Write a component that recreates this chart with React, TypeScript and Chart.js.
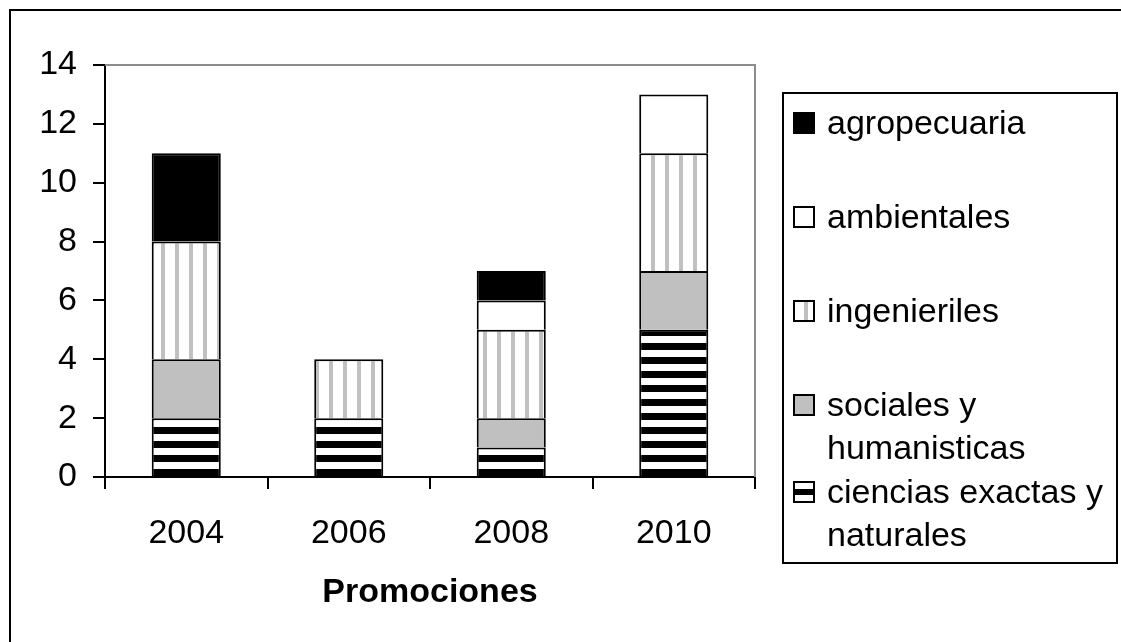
import React, { useEffect, useRef } from "react";
import { Chart, registerables } from "chart.js";

Chart.register(...registerables);

const categories = ["2004", "2006", "2008", "2010"];
const ciencias = [2, 2, 1, 5];
const sociales = [2, 0, 1, 2];
const ingenieriles = [4, 2, 3, 4];
const ambientales = [0, 0, 1, 2];
const agropecuaria = [3, 0, 1, 0];
const yMin = 0;
const yMax = 14;
const yStep = 2;
const xTitle = "Promociones";
const legendLines: Record<string, string[]> = {
  agropecuaria: ["agropecuaria"],
  ambientales: ["ambientales"],
  ingenieriles: ["ingenieriles"],
  sociales: ["sociales y", "humanisticas"],
  ciencias: ["ciencias exactas y", "naturales"],
};

const FONT = "'Liberation Sans', Arial, sans-serif";

function makePattern(kind: "h" | "v"): CanvasPattern | string {
  const c = document.createElement("canvas");
  c.width = 14;
  c.height = 14;
  const g = c.getContext("2d");
  if (!g) return "#fff";
  g.fillStyle = "#ffffff";
  g.fillRect(0, 0, 14, 14);
  if (kind === "h") {
    g.fillStyle = "#000000";
    g.fillRect(0, 7, 14, 7);
  } else {
    g.fillStyle = "#c0c0c0";
    g.fillRect(7, 0, 4, 14);
  }
  return g.createPattern(c, "repeat") || "#fff";
}

const nz = (arr: number[]) => arr.map((v) => (v === 0 ? null : v));

export default function App() {
  const ref = useRef<HTMLCanvasElement | null>(null);

  useEffect(() => {
    document.body.style.margin = "0";
    const canvas = ref.current;
    if (!canvas) return;

    const hPat = makePattern("h");
    const vPat = makePattern("v");

    const frame = {
      id: "frame",
      beforeDraw(chart: any) {
        const ctx = chart.ctx;
        ctx.save();
        ctx.fillStyle = "#fff";
        ctx.fillRect(0, 0, chart.width, chart.height);
        ctx.strokeStyle = "#000";
        ctx.lineWidth = 2;
        ctx.strokeRect(10, 10, chart.width + 20, chart.height + 20);
        ctx.restore();
      },
      afterDatasetsDraw(chart: any) {
        const { ctx, chartArea } = chart;
        ctx.save();
        ctx.strokeStyle = "#8c8c8c";
        ctx.lineWidth = 2;
        ctx.beginPath();
        ctx.moveTo(chartArea.left, chartArea.top);
        ctx.lineTo(chartArea.right, chartArea.top);
        ctx.lineTo(chartArea.right, chartArea.bottom);
        ctx.stroke();
        ctx.restore();
      },
      afterDraw(chart: any) {
        const ctx = chart.ctx;
        ctx.save();
        ctx.strokeStyle = "#000";
        ctx.lineWidth = 2;
        ctx.strokeRect(783, 93, 334, 470);
        const baselines = [134, 228, 322, 416, 503];
        const lineH = 43;
        const ds = chart.data.datasets.slice().reverse();
        ctx.font = `34px ${FONT}`;
        ctx.textBaseline = "alphabetic";
        ctx.textAlign = "left";
        ds.forEach((d: any, i: number) => {
          const base = baselines[i];
          const sx = 794;
          const sy = base - 21;
          const s = 20;
          const key = d.key as string;
          if (key === "ciencias") {
            ctx.fillStyle = "#fff";
            ctx.fillRect(sx, sy, s, s);
            ctx.fillStyle = "#000";
            ctx.fillRect(sx, sy + 7, s, 6);
          } else if (key === "ingenieriles") {
            ctx.fillStyle = "#fff";
            ctx.fillRect(sx, sy, s, s);
            ctx.fillStyle = "#c0c0c0";
            ctx.fillRect(sx + 10, sy, 4, s);
          } else {
            ctx.fillStyle = d.backgroundColor;
            ctx.fillRect(sx, sy, s, s);
          }
          ctx.strokeStyle = "#000";
          ctx.lineWidth = 2;
          ctx.strokeRect(sx, sy, s, s);
          ctx.fillStyle = "#000";
          (legendLines[key] || [d.label]).forEach((t, j) => {
            ctx.fillText(t, 827, base + j * lineH);
          });
        });
        ctx.restore();
      },
    };

    const common = {
      borderColor: "#000",
      borderWidth: 2,
      barPercentage: 0.425,
      categoryPercentage: 1,
      stack: "s",
    };

    const chart = new Chart(canvas, {
      type: "bar",
      data: {
        labels: categories,
        datasets: [
          { key: "ciencias", label: "ciencias exactas y naturales", data: nz(ciencias), backgroundColor: hPat, ...common },
          { key: "sociales", label: "sociales y humanisticas", data: nz(sociales), backgroundColor: "#c0c0c0", ...common },
          { key: "ingenieriles", label: "ingenieriles", data: nz(ingenieriles), backgroundColor: vPat, ...common },
          { key: "ambientales", label: "ambientales", data: nz(ambientales), backgroundColor: "#ffffff", ...common },
          { key: "agropecuaria", label: "agropecuaria", data: nz(agropecuaria), backgroundColor: "#000000", ...common },
        ] as any,
      },
      options: {
        animation: false,
        responsive: false,
        layout: { padding: { left: 0, top: 65, right: 366, bottom: 0 } },
        plugins: {
          legend: { display: false },
          tooltip: { enabled: false },
        },
        scales: {
          x: {
            stacked: true,
            offset: true,
            grid: {
              offset: true,
              drawOnChartArea: false,
              drawTicks: true,
              tickLength: 12,
              color: "#000",
              lineWidth: 2,
            },
            border: { display: true, color: "#000", width: 2 },
            ticks: {
              color: "#000",
              font: { family: FONT, size: 34 },
              padding: 24,
              maxRotation: 0,
              autoSkip: false,
            },
            title: {
              display: true,
              text: xTitle,
              color: "#000",
              font: { family: FONT, size: 34, weight: "bold" },
              padding: { top: 0, bottom: 29 },
            },
            afterFit(scale: any) {
              scale.height = 165;
            },
          },
          y: {
            stacked: true,
            min: yMin,
            max: yMax,
            grid: {
              drawOnChartArea: false,
              drawTicks: true,
              tickLength: 12,
              color: "#000",
              lineWidth: 2,
            },
            border: { display: true, color: "#000", width: 2 },
            ticks: {
              stepSize: yStep,
              color: "#000",
              font: { family: FONT, size: 34 },
              padding: 16,
            },
            afterFit(scale: any) {
              scale.width = 105;
            },
          },
        },
      },
      plugins: [frame],
    } as any);

    return () => chart.destroy();
  }, []);

  return (
    <div style={{ width: 1121, height: 642, position: "relative", overflow: "hidden" }}>
      <canvas ref={ref} width={1121} height={642} style={{ display: "block" }} />
    </div>
  );
}
